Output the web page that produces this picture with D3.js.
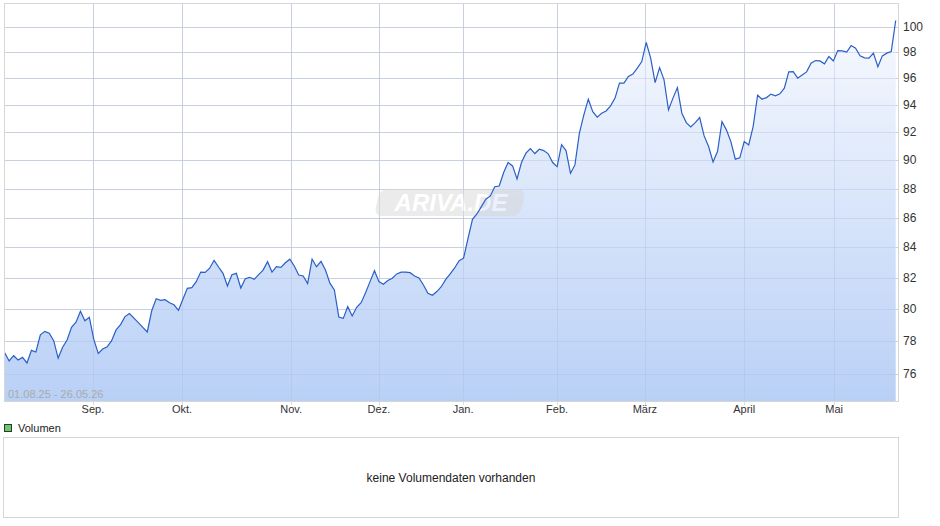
<!DOCTYPE html>
<html><head><meta charset="utf-8">
<script src="https://cdn.jsdelivr.net/npm/d3@7"></script>
<style>body{margin:0;background:#fff;font-family:"Liberation Sans",Arial,sans-serif}</style>
</head><body><svg id="c" width="940" height="526"></svg>
<script>
// daily closes
var prices = [77.29,76.79,77.11,76.85,77.01,76.67,77.44,77.34,78.40,78.61,78.49,78.03,76.97,77.63,78.07,78.86,79.18,79.87,79.27,79.49,
  78.11,77.25,77.52,77.66,78.03,78.70,79.03,79.53,79.72,79.44,79.15,78.86,78.57,79.90,80.66,80.56,80.60,80.41,80.28,79.93,
  80.63,81.33,81.37,81.76,82.38,82.36,82.63,83.15,82.71,82.30,81.48,82.21,82.30,
  81.35,81.95,82.04,81.91,82.21,82.51,83.06,82.38,82.73,82.69,82.99,83.22,82.78,82.19,82.13,81.63,83.22,82.73,83.08,82.51,
  81.66,81.22,79.50,79.42,80.16,79.57,80.12,80.41,81.05,81.76,82.47,81.76,81.59,81.83,81.98,82.26,82.38,82.38,82.34,82.13,
  82.00,81.54,81.01,80.88,81.12,81.43,81.91,82.26,82.65,83.13,83.29,
  84.61,85.89,86.25,86.75,87.26,87.49,88.13,88.18,89.12,89.83,89.59,88.67,89.83,90.50,90.83,90.47,90.78,90.68,90.45,89.83,
  89.54,91.11,90.68,89.07,89.66,91.94,93.28,94.44,93.52,93.11,93.40,93.57,93.94,94.52,95.65,95.65,96.15,96.33,96.79,97.29,
  98.77,97.55,95.69,96.83,95.90,93.64,94.52,95.31,93.40,92.71,
  92.39,92.71,93.08,91.74,90.97,89.87,90.61,92.78,92.18,91.33,90.07,90.16,91.33,91.09,92.42,94.74,94.44,94.56,94.82,94.69,
  94.84,95.27,96.50,96.52,96.02,96.27,96.50,97.17,97.37,97.34,97.12,97.68,97.34,98.14,98.12,98.02,98.53,98.33,97.73,97.58,
  97.55,97.94,96.89,97.73,97.94,98.07,100.50];
var monthNames = ["Sep.","Okt.","Nov.","Dez.","Jan.","Feb.","März","April","Mai"];
var monthStarts = [19.8,39.8,64.3,84,102.9,124,143.7,166,186.2];
var yTicks = [76,78,80,82,84,86,88,90,92,94,96,98,100];

var svg = d3.select("#c");
var pL = 4, pR = 898, pT = 3, pB = 401;
var x = d3.scaleLinear().domain([0, prices.length - 1]).range([4.7, 895.7]);
var y = d3.scaleLog().domain([74.4, 101.9]).range([pB, pT]);

var defs = svg.append("defs");
var g = defs.append("linearGradient").attr("id","fill").attr("x1",0).attr("y1",0).attr("x2",0).attr("y2",1);
g.append("stop").attr("offset","0%").attr("stop-color","#f7f9fe");
g.append("stop").attr("offset","100%").attr("stop-color","#b9d0f6");
defs.append("clipPath").attr("id","clip").append("rect")
  .attr("x",pL).attr("y",pT).attr("width",pR-pL).attr("height",pB-pT);

function hGrid(col, op, ext) {
  svg.append("g").selectAll("line").data(yTicks).enter().append("line")
    .attr("x1",pL).attr("x2",pR).attr("y1",function(d){return Math.round(y(d))+0.5;}).attr("y2",function(d){return Math.round(y(d))+0.5;})
    .attr("stroke",col).attr("stroke-opacity",op);
  svg.append("g").selectAll("line").data(monthStarts).enter().append("line")
    .attr("x1",function(d){return Math.round(x(d))+0.5;}).attr("x2",function(d){return Math.round(x(d))+0.5;})
    .attr("y1",pT).attr("y2",pB+ext).attr("stroke",col).attr("stroke-opacity",op);
}
hGrid("#dcdcdc", 1, 4);

var area = d3.area().x(function(d,i){return x(i);}).y0(pB).y1(function(d){return y(d);});
var line = d3.line().x(function(d,i){return x(i);}).y(function(d){return y(d);});
svg.append("path").datum(prices).attr("d",area).attr("fill","url(#fill)").attr("clip-path","url(#clip)");
hGrid("#a9bfe4", 0.4, 0);

// watermark
var wm = svg.append("g").attr("opacity",0.5);
wm.append("rect").attr("x",378).attr("y",189).attr("width",146).attr("height",27).attr("rx",8)
  .attr("fill","#d8d8d8").attr("transform","skewX(-12) translate(42,0)");
wm.append("text").attr("x",451).attr("y",211).attr("text-anchor","middle")
  .attr("font-size",24).attr("font-weight","bold").attr("font-style","italic").attr("fill","#fff").text("ARIVA.DE");

svg.append("path").datum(prices).attr("d",line).attr("fill","none").attr("stroke","#2b5fc6").attr("stroke-width",1.2);

svg.append("rect").attr("x",pL+0.5).attr("y",pT+0.5).attr("width",pR-pL).attr("height",pB-pT)
  .attr("fill","none").attr("stroke","#d6d6d6");

svg.append("g").selectAll("text").data(yTicks).enter().append("text")
  .attr("x",903).attr("y",function(d){return y(d)+4;}).attr("font-size",12).attr("fill","#333").text(function(d){return d;});
svg.append("g").selectAll("text").data(monthStarts).enter().append("text")
  .attr("x",function(d){return x(d);}).attr("y",413).attr("text-anchor","middle").attr("font-size",11).attr("fill","#333")
  .text(function(d,i){return monthNames[i];});
svg.append("text").attr("x",8).attr("y",398).attr("font-size",11).attr("fill","#aaa").text("01.08.25 - 26.05.26");

// volume panel
svg.append("rect").attr("x",4.5).attr("y",424.5).attr("width",7).attr("height",7).attr("fill","#66cc66").attr("stroke","#333");
svg.append("text").attr("x",18).attr("y",432).attr("font-size",11).attr("fill","#222").text("Volumen");
svg.append("rect").attr("x",3.5).attr("y",437.5).attr("width",895).attr("height",80).attr("fill","none").attr("stroke","#d6d6d6");
svg.append("text").attr("x",451).attr("y",482).attr("text-anchor","middle").attr("font-size",12).attr("fill","#222").text("keine Volumendaten vorhanden");
</script></body></html>
